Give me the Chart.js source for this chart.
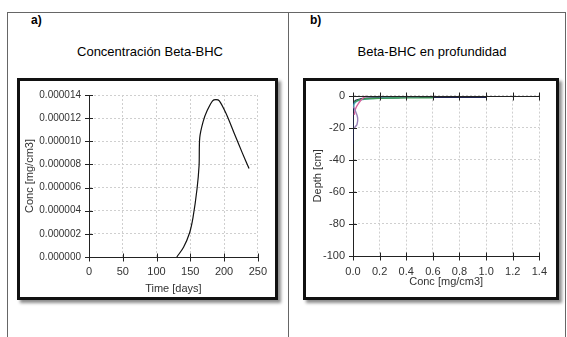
<!DOCTYPE html>
<html>
<head>
<meta charset="utf-8">
<script src="https://cdn.jsdelivr.net/npm/chart.js@4.4.1/dist/chart.umd.min.js"></script>
<style>
  body { margin: 0; background: #fff; font-family: 'Liberation Sans', Arial, sans-serif; }
  .page { position: relative; width: 567px; height: 337px; overflow: hidden; }
  .vline { position: absolute; top: 12px; width: 1px; height: 330px; background: #666; }
  .hline { position: absolute; left: 7px; top: 12px; width: 559px; height: 1px; background: #666; }
  .tag { position: absolute; top: 13px; font-size: 12px; font-weight: bold; color: #000; }
  .title { position: absolute; top: 44px; font-size: 13px; color: #000; text-align: center; width: 250px; }
  .frame { position: absolute; top: 78px; height: 222px; box-sizing: border-box; border: 3px solid #111;
           box-shadow: 3px 3px 3px rgba(0,0,0,0.45); background: #fff; }
  .frame canvas { position: absolute; left: 0; top: 0; }
</style>
</head>
<body>
<div class="page">
  <div class="hline"></div>
  <div class="vline" style="left:7px"></div>
  <div class="vline" style="left:288px"></div>
  <div class="vline" style="left:565px"></div>
  <div class="tag" style="left:31px">a)</div>
  <div class="tag" style="left:310px">b)</div>
  <div class="title" style="left:25px">Concentración Beta-BHC</div>
  <div class="title" style="left:307px">Beta-BHC en profundidad</div>
  <div class="frame" style="left:17px;width:261px"><canvas id="chartA" width="255" height="216"></canvas></div>
  <div class="frame" style="left:303px;width:256px"><canvas id="chartB" width="250" height="216"></canvas></div>
</div>
<script>
// *****Data***** //
const timeDays = [130, 140, 149, 154, 160, 163, 164, 169, 175, 183, 188, 193, 203, 215, 227, 237];
const concA = [0, 0.00000084, 0.0000021, 0.0000034, 0.0000059, 0.0000079, 0.0000103, 0.0000117,
               0.00001265, 0.0000135, 0.0000136, 0.0000135, 0.0000124, 0.0000107, 0.000009, 0.00000765];

const profile1Conc = [0, 0, 0, 0.003, 0.02, 0.06, 0.15, 0.4, 0.7, 1.0];
const profile1Depth = [-30, -20, -10, -5, -3, -2, -1.4, -1.1, -1.0, -1.0];
const profile2Conc = [0.005, 0.01, 0.03, 0.07, 0.15, 0.25, 0.35];
const profile2Depth = [-7, -5, -3.5, -2.5, -1.8, -1.5, -1.3];
const profile3Conc = [0.01, 0.05, 0.15, 0.3, 0.45, 0.6];
const profile3Depth = [-4, -2.5, -1.8, -1.5, -1.4, -1.4];
const profile4Conc = [0.01, 0.02, 0.04, 0.07, 0.1];
const profile4Depth = [-12, -8, -5, -2, 0];
const profile5Conc = [0.005, 0.02, 0.035, 0.03, 0.01];
const profile5Depth = [-7, -10, -14, -18, -20];
const profile6Conc = [0.2, 0.35, 0.5];
const profile6Depth = [-1.2, -1.1, -1.1];

const fontFamily = "'Liberation Sans', Arial, sans-serif";
const tickFont = { family: fontFamily, size: 11 };
const smallFont = { family: fontFamily, size: 10 };
const tickColor = '#333';

function pts(xs, ys) {
    return xs.map((x, i) => ({ x: x, y: ys[i] }));
}

// cross ticks drawn on the axis lines
const crossTicks = {
    id: 'crossTicks',
    afterDatasetsDraw(chart, args, opts) {
        const c = chart.ctx, a = chart.chartArea;
        const xs = chart.scales.x, ys = chart.scales.y;
        c.save();
        c.strokeStyle = '#222';
        c.lineWidth = 1;
        c.beginPath();
        ys.ticks.forEach(t => {
            const y = Math.round(ys.getPixelForValue(t.value)) + 0.5;
            c.moveTo(a.left - 4, y); c.lineTo(a.left + 4, y);
        });
        (opts.lines || ['bottom']).forEach(pos => {
            const yy = Math.round(pos === 'top' ? a.top : a.bottom) + 0.5;
            c.moveTo(a.left, yy); c.lineTo(a.right, yy);
            xs.ticks.forEach(t => {
                const x = Math.round(xs.getPixelForValue(t.value)) + 0.5;
                c.moveTo(x, yy - 4); c.lineTo(x, yy + 4);
            });
        });
        c.stroke();
        c.restore();
    }
};

function axes(xOpt, yOpt) {
    const grid = { color: '#cfcfcf', drawTicks: false };
    const border = { color: '#222', width: 1, dash: [2, 2] };
    return {
        x: Object.assign({
            type: 'linear',
            grid: grid, border: border,
            ticks: { font: tickFont, color: tickColor, padding: 8, maxRotation: 0 },
        }, xOpt),
        y: Object.assign({
            type: 'linear',
            grid: grid, border: border,
            ticks: { font: tickFont, color: tickColor, padding: 8 },
        }, yOpt)
    };
}

// *****Concentration Chart***** //
const ca = document.getElementById('chartA');
if (ca) {
    new Chart(ca, {
        type: 'scatter',
        data: {
            datasets: [{
                data: pts(timeDays, concA),
                showLine: true,
                borderColor: '#111',
                borderWidth: 1.2,
                pointRadius: 0,
                tension: 0.3
            }]
        },
        options: {
            responsive: false,
            animation: false,
            devicePixelRatio: 1,
            layout: { padding: { top: 10, right: 14, left: 0, bottom: 0 } },
            plugins: { legend: { display: false }, tooltip: { enabled: false }, crossTicks: { lines: ['bottom'] } },
            scales: axes({
                min: 0, max: 250,
                afterFit: s => { s.height = 40; },
                afterBuildTicks: s => { s.ticks = [0, 50, 100, 150, 200, 250].map(v => ({ value: v })); },
                title: { display: true, text: 'Time [days]', font: tickFont, color: tickColor, padding: { top: 4, bottom: 1 } }
            }, {
                min: 0, max: 0.000014,
                afterFit: s => { s.width = 69; },
                afterBuildTicks: s => { s.ticks = [0, 2, 4, 6, 8, 10, 12, 14].map(v => ({ value: v * 1e-6 })); },
                ticks: { font: smallFont, color: tickColor, padding: 8, callback: v => v.toFixed(6) },
                title: { display: true, text: 'Conc [mg/cm3]', font: tickFont, color: tickColor, padding: { top: 3, bottom: 0 } }
            })
        },
        plugins: [crossTicks]
    });
}

// *****Depth Profile Chart***** //
const cb = document.getElementById('chartB');
if (cb) {
    const line = (xs, ys, color) => ({
        data: pts(xs, ys), showLine: true, borderColor: color, borderWidth: 1.4, pointRadius: 0, tension: 0.4
    });
    new Chart(cb, {
        type: 'scatter',
        data: {
            datasets: [
                line(profile5Conc, profile5Depth, '#9a80b8'),
                line(profile4Conc, profile4Depth, '#d8649c'),
                line(profile3Conc, profile3Depth, '#3f9a52'),
                line(profile2Conc, profile2Depth, '#45a2b0'),
                line(profile6Conc, profile6Depth, '#6a60c0'),
                line(profile1Conc, profile1Depth, '#1e2450')
            ]
        },
        options: {
            responsive: false,
            animation: false,
            devicePixelRatio: 1,
            layout: { padding: { top: 9, right: 11, left: 0, bottom: 0 } },
            plugins: { legend: { display: false }, tooltip: { enabled: false }, crossTicks: { lines: ['top', 'bottom'] } },
            scales: axes({
                min: 0, max: 1.4,
                afterFit: s => { s.height = 41; },
                afterBuildTicks: s => { s.ticks = [0, 0.2, 0.4, 0.6, 0.8, 1.0, 1.2, 1.4].map(v => ({ value: v })); },
                ticks: { font: tickFont, color: tickColor, padding: 9, maxRotation: 0, callback: v => v.toFixed(1) },
                title: { display: true, text: 'Conc [mg/cm3]', font: tickFont, color: tickColor, padding: { top: 2, bottom: 8 } }
            }, {
                min: -100, max: 0,
                afterFit: s => { s.width = 47; },
                afterBuildTicks: s => { s.ticks = [-100, -80, -60, -40, -20, 0].map(v => ({ value: v })); },
                title: { display: true, text: 'Depth [cm]', font: tickFont, color: tickColor, padding: { top: 5, bottom: 0 } }
            })
        },
        plugins: [crossTicks]
    });
}
</script>
</body>
</html>
